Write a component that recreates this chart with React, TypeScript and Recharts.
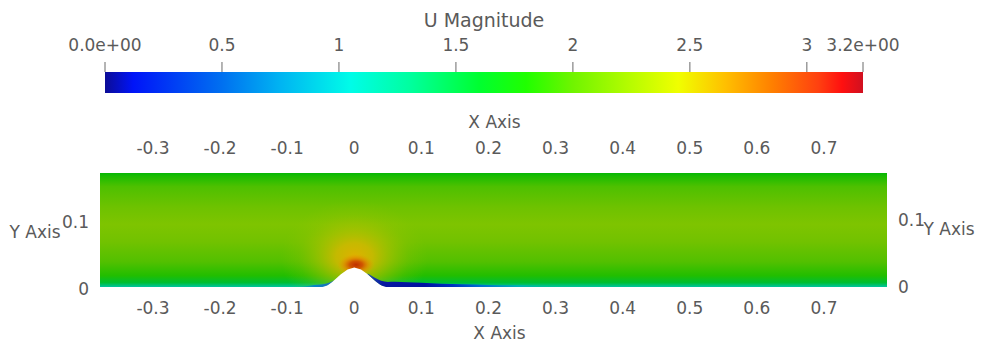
import React from 'react';
import { ComposedChart, Area, XAxis, YAxis } from 'recharts';

const FONT = '"DejaVu Sans", sans-serif';
const TEXT = '#5a5a5a';
const FS = 17;

// ---- channel / axes ----
const xRange = [-0.379, 0.794];
const yRange = [0, 0.17];
const xTicks = [-0.3, -0.2, -0.1, 0, 0.1, 0.2, 0.3, 0.4, 0.5, 0.6, 0.7];
const yTicks = [0, 0.1];

// ---- wall bump profile ----
const bumpX = [-0.06, -0.05, -0.04, -0.03, -0.02, -0.01, 0, 0.01, 0.02, 0.03, 0.04, 0.05, 0.06];
const bumpY = [0, 0, 0.0027, 0.01, 0.019, 0.0262, 0.029, 0.0262, 0.019, 0.01, 0.0027, 0, 0];

// ---- low-speed layer downstream of the bump (thickness above wall) ----
const wakeX = [0.02, 0.03, 0.04, 0.05, 0.06, 0.08, 0.1, 0.13, 0.16, 0.2, 0.25, 0.3];
const wakeT = [0.001, 0.004, 0.0065, 0.0075, 0.0078, 0.0072, 0.0062, 0.005, 0.004, 0.003, 0.0025, 0.002];

// ---- low-speed pocket upstream foot ----
const footX = [-0.09, -0.07, -0.06, -0.05, -0.04, -0.03];
const footT = [0, 0.0015, 0.003, 0.0038, 0.0028, 0];

// ---- high-speed regions above the crest ----
const glowX = [-0.11, 0.11];
const glowY = [0, 0.17];
const capX = [-0.025, 0.03];
const capY = [0.018, 0.05];

// ---- colour bar ----
const cbRange = [0, 3.24];
const cbTicks = [0, 0.5, 1, 1.5, 2, 2.5, 3, 3.24];
const cbStopValues = [0, 0.12, 0.5, 0.75, 1.05, 1.3, 1.6, 1.8, 2.0, 2.25, 2.45, 2.65, 2.85, 3.05, 3.15, 3.24];
const cbStopColors = ['#0c0c96', '#0014f8', '#0070f0', '#00b4f2', '#00fce8', '#00ffa0', '#00ff30', '#20ff00', '#70f400', '#b8fc00', '#f0ff00', '#ffc000', '#ff8000', '#ff4010', '#ff1010', '#d01020'];

const bumpAt = (x: number) => {
  const i = bumpX.indexOf(x);
  return i >= 0 ? bumpY[i] : 0;
};

const fieldData = xRange.map((x) => ({ x, f: [yRange[0], yRange[1]] }));
const bumpData = bumpX.map((x, i) => ({ x, b: bumpY[i] }));
const wakeData = wakeX.map((x, i) => ({ x, w: [bumpAt(x), bumpAt(x) + wakeT[i]] }));
const footData = footX.map((x, i) => ({ x, w: [bumpAt(x), bumpAt(x) + footT[i]] }));
const glowData = glowX.map((x) => ({ x, g: [glowY[0], glowY[1]] }));
const capData = capX.map((x) => ({ x, g: [capY[0], capY[1]] }));
const cbData = cbRange.map((v) => ({ v, b: [0, 1] }));

const fmtCb = (v: number) => (v === cbRange[0] ? '0.0e+00' : v === cbRange[1] ? '3.2e+00' : String(v));

const txt = (x: number, y: number, s: string, anchor: string = 'middle', size = FS) => (
  <text x={x} y={y} textAnchor={anchor as any} dominantBaseline="central" fontFamily={FONT} fontSize={size} fill={TEXT}>
    {s}
  </text>
);

const xTickTop = (p: any) => txt(p.x, p.y - 17, String(p.payload.value));
const xTickBottom = (p: any) => txt(p.x, p.y + 13, String(p.payload.value));
const yTickLeft = (p: any) => txt(p.x - 3, p.y + 2, String(p.payload.value), 'end');
const yTickRight = (p: any) => txt(p.x + 3, p.y, String(p.payload.value), 'start');
const cbTick = (p: any) => txt(p.x, p.y - 15, fmtCb(p.payload.value));

const common = { isAnimationActive: false, dot: false, activeDot: false, stroke: 'none', type: 'linear' as const, xAxisId: 'bottom', yAxisId: 'left' };

export default function App() {
  return (
    <div style={{ position: 'absolute', left: 0, top: 0, width: 985, height: 344, background: '#fff' }}>
      <div style={{ position: 'absolute', left: 0, top: 0 }}>
        <ComposedChart width={985} height={344} margin={{ top: 133, right: 58, bottom: 17, left: 60 }}>
          <defs>
            <linearGradient id="field" x1="0" y1="0" x2="0" y2="1">
              <stop offset="0" stopColor="#06b606" />
              <stop offset="0.03" stopColor="#1cbc00" />
              <stop offset="0.12" stopColor="#4ec000" />
              <stop offset="0.3" stopColor="#6ec200" />
              <stop offset="0.45" stopColor="#7ec400" />
              <stop offset="0.6" stopColor="#72c200" />
              <stop offset="0.78" stopColor="#52c000" />
              <stop offset="0.9" stopColor="#22be00" />
              <stop offset="0.96" stopColor="#00be30" />
              <stop offset="1" stopColor="#00c4a0" />
            </linearGradient>
            <radialGradient id="glow" cx="0.5" cy="0.74" r="0.5">
              <stop offset="0" stopColor="#e0b000" stopOpacity="1" />
              <stop offset="0.25" stopColor="#d6b800" stopOpacity="0.85" />
              <stop offset="0.5" stopColor="#c0c000" stopOpacity="0.5" />
              <stop offset="0.75" stopColor="#a4c200" stopOpacity="0.2" />
              <stop offset="1" stopColor="#90c400" stopOpacity="0" />
            </radialGradient>
            <radialGradient id="cap" cx="0.5" cy="0.53" r="0.5">
              <stop offset="0" stopColor="#c03000" stopOpacity="1" />
              <stop offset="0.35" stopColor="#d05000" stopOpacity="0.95" />
              <stop offset="0.65" stopColor="#e08000" stopOpacity="0.6" />
              <stop offset="1" stopColor="#e0a000" stopOpacity="0" />
            </radialGradient>
            <linearGradient id="wake" x1="0" y1="0" x2="1" y2="0">
              <stop offset="0" stopColor="#2050b0" />
              <stop offset="0.08" stopColor="#0818a0" />
              <stop offset="0.3" stopColor="#0010a0" />
              <stop offset="0.45" stopColor="#0030c0" />
              <stop offset="0.6" stopColor="#0070d0" />
              <stop offset="0.8" stopColor="#00b0b8" />
              <stop offset="1" stopColor="#00c090" stopOpacity="0.3" />
            </linearGradient>
            <linearGradient id="foot" x1="0" y1="0" x2="1" y2="0">
              <stop offset="0" stopColor="#00c0a0" stopOpacity="0.3" />
              <stop offset="0.5" stopColor="#0080d0" />
              <stop offset="1" stopColor="#2060c0" />
            </linearGradient>
          </defs>
          <XAxis
            xAxisId="top"
            orientation="top"
            type="number"
            dataKey="x"
            domain={xRange}
            ticks={xTicks}
            allowDataOverflow
            interval={0}
            height={40}
            tickLine={false}
            axisLine={false}
            tick={xTickTop}
            label={{ content: (p: any) => txt(p.viewBox.x + p.viewBox.width / 2 + 1, p.viewBox.y - 11, 'X Axis') }}
          />
          <XAxis
            xAxisId="bottom"
            orientation="bottom"
            type="number"
            dataKey="x"
            domain={xRange}
            ticks={xTicks}
            allowDataOverflow
            interval={0}
            height={40}
            tickLine={false}
            axisLine={false}
            tick={xTickBottom}
            label={{ content: (p: any) => txt(p.viewBox.x + p.viewBox.width / 2 + 6, p.viewBox.y + 46, 'X Axis') }}
          />
          <YAxis
            yAxisId="left"
            orientation="left"
            type="number"
            domain={yRange}
            ticks={yTicks}
            allowDataOverflow
            interval={0}
            width={40}
            tickLine={false}
            axisLine={false}
            tick={yTickLeft}
            label={{ content: (p: any) => txt(p.viewBox.x - 25, p.viewBox.y + 59, 'Y Axis') }}
          />
          <YAxis
            yAxisId="right"
            orientation="right"
            type="number"
            domain={yRange}
            ticks={yTicks}
            allowDataOverflow
            interval={0}
            width={40}
            tickLine={false}
            axisLine={false}
            tick={yTickRight}
            label={{ content: (p: any) => txt(p.viewBox.x + 62, p.viewBox.y + 56, 'Y Axis') }}
          />
          <Area {...common} data={fieldData} dataKey="f" fill="url(#field)" fillOpacity={1} />
          <Area {...common} data={glowData} dataKey="g" fill="url(#glow)" fillOpacity={1} />
          <Area {...common} data={capData} dataKey="g" fill="url(#cap)" fillOpacity={1} />
          <Area {...common} data={bumpData} dataKey="b" fill="#ffffff" fillOpacity={1} />
          <Area {...common} type="monotone" data={wakeData} dataKey="w" fill="url(#wake)" fillOpacity={1} />
          <Area {...common} type="monotone" data={footData} dataKey="w" fill="url(#foot)" fillOpacity={0.9} />
        </ComposedChart>
      </div>
      <div style={{ position: 'absolute', left: 0, top: 0 }}>
        <ComposedChart width={985} height={100} margin={{ top: 42, right: 122, bottom: 7, left: 105 }}>
          <defs>
            <linearGradient id="cbGrad" x1="0" y1="0" x2="1" y2="0">
              {cbStopValues.map((v, i) => (
                <stop key={i} offset={v / cbRange[1]} stopColor={cbStopColors[i]} />
              ))}
            </linearGradient>
          </defs>
          <XAxis
            orientation="top"
            type="number"
            dataKey="v"
            domain={cbRange}
            ticks={cbTicks}
            allowDataOverflow
            interval={0}
            height={30}
            tickSize={10}
            tickLine={{ stroke: '#6a6a6a', strokeWidth: 1 }}
            axisLine={false}
            tick={cbTick}
            label={{ content: (p: any) => txt(p.viewBox.x + p.viewBox.width / 2, p.viewBox.y - 22, 'U Magnitude', 'middle', 19) }}
          />
          <YAxis hide type="number" domain={[0, 1]} />
          <Area type="linear" data={cbData} dataKey="b" stroke="none" fill="url(#cbGrad)" fillOpacity={1} isAnimationActive={false} dot={false} activeDot={false} />
        </ComposedChart>
      </div>
    </div>
  );
}
